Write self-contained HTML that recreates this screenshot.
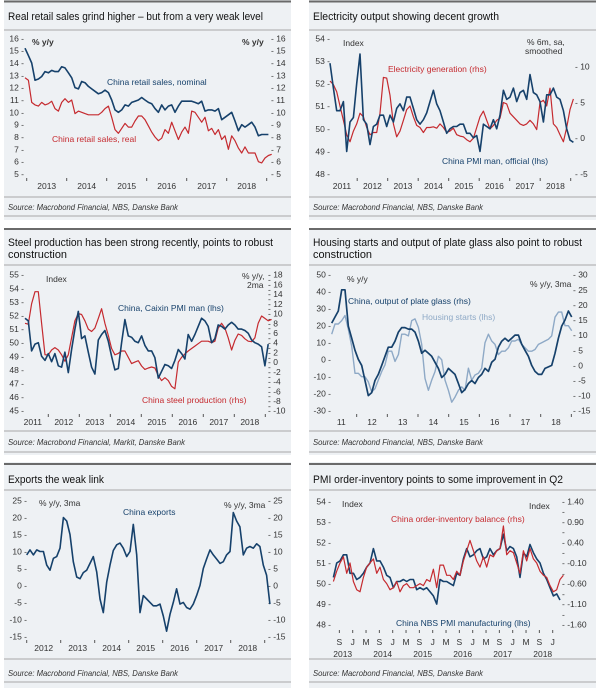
<!DOCTYPE html>
<html><head><meta charset="utf-8">
<style>
html,body{margin:0;padding:0;background:#fff;}
svg{display:block;font-family:"Liberation Sans",sans-serif;}
.ttl{font-size:11px;fill:#111;}
.src{font-size:8.5px;font-style:italic;fill:#333;}
.tk{font-size:8.5px;fill:#333;}
.sep{stroke:#a8a8a8;stroke-width:1;}
.top{stroke:#6a6a6a;stroke-width:2;}
.bg{fill:#eef1f4;}
</style></head>
<body>
<svg id="chart" width="600" height="688" viewBox="0 0 600 688">
<!-- Panel 1 -->
<g>
<rect class="bg" x="4" y="0" width="287" height="220"/>
<line class="top" x1="4" y1="1.5" x2="291" y2="1.5"/>
<text class="ttl" x="8" y="20" textLength="255" lengthAdjust="spacingAndGlyphs">Real retail sales grind higher – but from a very weak level</text>
<line class="sep" x1="4" y1="30" x2="291" y2="30"/>
<line class="sep" x1="4" y1="197" x2="291" y2="197"/>
<text class="src" x="8" y="210" textLength="170" lengthAdjust="spacingAndGlyphs">Source: Macrobond Financial, NBS, Danske Bank</text>
<line class="sep" x1="4" y1="216" x2="291" y2="216"/>
<text class="tk" x="32" y="45" font-weight="bold">% y/y</text>
<text class="tk" x="242" y="45" font-weight="bold">% y/y</text>
<text class="tk" x="107" y="85" style="fill:#16416b">China retail sales, nominal</text>
<text class="tk" x="52" y="142" style="fill:#c52a2f">China retail sales, real</text>
</g>
<!-- Panel 2 -->
<g>
<rect class="bg" x="309" y="0" width="287" height="220"/>
<line class="top" x1="309" y1="1.5" x2="596" y2="1.5"/>
<text class="ttl" x="313" y="20" textLength="186" lengthAdjust="spacingAndGlyphs">Electricity output showing decent growth</text>
<line class="sep" x1="309" y1="30" x2="596" y2="30"/>
<line class="sep" x1="309" y1="197" x2="596" y2="197"/>
<text class="src" x="313" y="210" textLength="170" lengthAdjust="spacingAndGlyphs">Source: Macrobond Financial, NBS, Danske Bank</text>
<line class="sep" x1="309" y1="216" x2="596" y2="216"/>
<text class="tk" x="343" y="46">Index</text>
<text class="tk" x="527" y="45">% 6m, sa,</text>
<text class="tk" x="525" y="54">smoothed</text>
<text class="tk" x="388" y="72" style="fill:#c52a2f">Electricity generation (rhs)</text>
<text class="tk" x="442" y="164" style="fill:#16416b">China PMI man, official (lhs)</text>
</g>
<!-- Panel 3 -->
<g>
<rect class="bg" x="4" y="228" width="287" height="227"/>
<line class="top" x1="4" y1="229" x2="291" y2="229"/>
<text class="ttl" x="8" y="246" textLength="265" lengthAdjust="spacingAndGlyphs">Steel production has been strong recently, points to robust</text>
<text class="ttl" x="8" y="258" textLength="59" lengthAdjust="spacingAndGlyphs">construction</text>
<line class="sep" x1="4" y1="265" x2="291" y2="265"/>
<line class="sep" x1="4" y1="431" x2="291" y2="431"/>
<text class="src" x="8" y="445" textLength="177" lengthAdjust="spacingAndGlyphs">Source: Macrobond Financial, Markit, Danske Bank</text>
<line class="sep" x1="4" y1="452" x2="291" y2="452"/>
<text class="tk" x="46" y="282">Index</text>
<text class="tk" x="242" y="279">% y/y,</text>
<text class="tk" x="247" y="288">2ma</text>
<text class="tk" x="118" y="311" style="fill:#16416b">China, Caixin PMI man (lhs)</text>
<text class="tk" x="142" y="403" style="fill:#c52a2f">China steel production (rhs)</text>
</g>
<!-- Panel 4 -->
<g>
<rect class="bg" x="309" y="228" width="287" height="227"/>
<line class="top" x1="309" y1="229" x2="596" y2="229"/>
<text class="ttl" x="313" y="246" textLength="269" lengthAdjust="spacingAndGlyphs">Housing starts and output of plate glass also point to robust</text>
<text class="ttl" x="313" y="258" textLength="59" lengthAdjust="spacingAndGlyphs">construction</text>
<line class="sep" x1="309" y1="265" x2="596" y2="265"/>
<line class="sep" x1="309" y1="431" x2="596" y2="431"/>
<text class="src" x="313" y="445" textLength="170" lengthAdjust="spacingAndGlyphs">Source: Macrobond Financial, NBS, Danske Bank</text>
<line class="sep" x1="309" y1="452" x2="596" y2="452"/>
<text class="tk" x="347" y="282">% y/y</text>
<text class="tk" x="530" y="287">% y/y, 3ma</text>
<text class="tk" x="348" y="304" style="fill:#16416b">China, output of plate glass (rhs)</text>
<text class="tk" x="422" y="320" style="fill:#8ea9c6">Housing starts (lhs)</text>
</g>
<!-- Panel 5 -->
<g>
<rect class="bg" x="4" y="462" width="287" height="226"/>
<line class="top" x1="4" y1="464" x2="291" y2="464"/>
<text class="ttl" x="8" y="483" textLength="96" lengthAdjust="spacingAndGlyphs">Exports the weak link</text>
<line class="sep" x1="4" y1="490" x2="291" y2="490"/>
<line class="sep" x1="4" y1="659" x2="291" y2="659"/>
<text class="src" x="8" y="676" textLength="170" lengthAdjust="spacingAndGlyphs">Source: Macrobond Financial, NBS, Danske Bank</text>
<line class="sep" x1="4" y1="682" x2="291" y2="682"/>
<text class="tk" x="39" y="506">% y/y, 3ma</text>
<text class="tk" x="224" y="508">% y/y, 3ma</text>
<text class="tk" x="123" y="515" style="fill:#16416b">China exports</text>
</g>
<!-- Panel 6 -->
<g>
<rect class="bg" x="309" y="462" width="287" height="226"/>
<line class="top" x1="309" y1="464" x2="596" y2="464"/>
<text class="ttl" x="313" y="483" textLength="250" lengthAdjust="spacingAndGlyphs">PMI order-inventory points to some improvement in Q2</text>
<line class="sep" x1="309" y1="490" x2="596" y2="490"/>
<line class="sep" x1="309" y1="659" x2="596" y2="659"/>
<text class="src" x="313" y="676" textLength="170" lengthAdjust="spacingAndGlyphs">Source: Macrobond Financial, NBS, Danske Bank</text>
<line class="sep" x1="309" y1="682" x2="596" y2="682"/>
<text class="tk" x="342" y="507" font-size="9">Index</text>
<text class="tk" x="529" y="509" font-size="9">Index</text>
<text class="tk" x="391" y="522" style="fill:#c52a2f" font-size="9">China order-inventory balance (rhs)</text>
<text class="tk" x="396" y="626" style="fill:#16416b" font-size="9">China NBS PMI manufacturing (lhs)</text>
</g>
</svg>
<script>
// ===== Panel 1: retail sales (monthly) =====
const p1Start = 2012.958;
const p1Nominal = [15.2,14.6,14.0,12.6,12.7,12.9,13.3,13.2,13.4,13.3,13.3,13.7,13.6,13.2,12.8,12.0,11.9,12.5,12.4,12.1,11.9,11.7,11.5,11.6,11.8,11.6,11.0,10.2,10.0,10.2,10.6,10.5,10.8,10.9,11.0,11.2,11.0,10.8,10.7,10.3,10.0,10.6,10.2,10.5,10.6,10.0,10.5,10.9,10.9,10.9,10.9,10.8,10.7,10.9,10.1,10.2,10.2,10.1,10.3,9.4,9.6,9.8,10.0,9.3,8.5,9.0,8.8,9.0,9.2,8.8,8.1,8.2,8.2,8.2];
const p1Real = [12.8,12.6,10.8,10.6,10.5,10.8,10.6,10.7,10.9,10.3,10.1,10.8,11.1,10.8,11.0,9.9,10.1,10.0,9.9,9.8,9.8,9.8,9.8,10.0,10.3,10.5,9.6,8.6,8.3,8.7,9.1,8.8,8.8,9.3,9.7,9.7,9.4,8.9,8.4,8.0,7.7,7.9,8.6,8.3,9.2,8.5,7.8,8.4,8.8,8.3,10.1,10.0,9.6,9.2,9.6,8.5,8.7,8.2,8.6,7.8,8.1,7.0,8.1,7.7,7.1,6.7,7.2,6.7,6.7,6.7,6.0,5.9,6.3,6.5,6.6];
const p1YTicks = [5,6,7,8,9,10,11,12,13,14,15,16];
const p1Years = [2013,2014,2015,2016,2017,2018];

// ===== Panel 2: electricity =====
const p2Start = 2011.109, p2StepYears = 0.1093;
const p2Pmi = [52.9,51.8,50.8,50.8,51.2,49.0,50.3,50.5,52.0,53.3,50.4,50.2,49.3,50.1,50.2,50.6,50.6,50.1,50.6,50.3,50.9,51.1,50.8,51.4,51.4,50.9,50.4,50.2,50.4,50.7,51.2,51.7,51.1,50.8,50.3,49.8,50.0,50.1,50.1,50.2,50.2,49.8,49.8,49.6,49.7,49.0,50.2,50.1,50.0,50.4,50.0,50.6,51.7,51.3,51.4,51.8,51.2,51.6,51.7,51.3,52.4,51.6,51.5,51.2,50.3,51.5,51.5,51.8,51.4,51.3,50.8,50.0,49.5,49.4];
const p2Elec = [8.0,7.5,6.5,4.5,2.5,0.5,-0.5,1.0,2.0,3.5,3.0,1.5,0.5,0.8,0.8,3.5,8.5,8.4,6.0,2.0,0.2,1.0,2.5,4.0,4.5,3.0,1.8,1.5,0.8,1.5,1.5,1.6,1.4,2.0,1.5,0.8,1.0,1.4,0.5,0.3,0.2,-0.2,-0.5,0.0,1.5,3.0,3.8,2.5,1.3,1.8,2.5,2.8,5.0,4.8,3.5,3.0,2.5,2.0,1.8,2.0,2.5,2.0,1.2,5.0,5.3,4.5,7.0,2.0,1.5,0.5,-0.5,1.5,4.0,5.5];
const p2LeftTicks = [48,49,50,51,52,53,54];
const p2RightTicks = [-5,0,5,10];
const p2Years = [2011,2012,2013,2014,2015,2016,2017,2018];

// ===== Panel 3: steel =====
const p3Start = 2011.247, p3StepYears = 0.1075;
const p3Caixin = [51.8,51.6,49.4,49.9,50.0,49.0,48.7,49.2,48.6,49.2,48.3,48.2,49.3,47.8,49.5,51.0,52.3,50.3,50.5,49.3,48.2,47.7,50.2,50.6,50.9,50.1,49.0,48.0,48.1,50.0,51.7,50.5,50.4,50.1,50.0,50.5,49.8,49.4,49.4,48.9,47.4,47.9,48.4,48.3,48.1,48.7,49.5,49.2,48.8,50.6,50.1,50.6,51.2,51.8,51.6,51.2,50.0,50.3,51.3,51.2,51.0,51.3,51.5,51.3,51.0,51.0,50.9,50.7,50.2,50.0,49.9,49.7,48.3,49.9];
const p3Steel = [8.0,7.8,12.0,14.5,14.5,8.0,1.5,1.5,2.5,3.0,2.5,1.5,0.2,1.5,5.0,8.5,10.0,9.8,8.5,6.8,6.3,7.0,9.0,11.0,8.0,5.5,2.8,1.5,1.8,2.3,2.3,1.0,-0.3,0.0,0.3,-0.8,-1.5,-1.2,-1.0,-1.2,-2.8,-3.8,-3.2,-3.8,-5.0,-5.5,0.0,1.0,1.7,2.3,2.8,3.3,3.8,4.3,4.3,4.3,4.0,4.3,7.0,8.0,7.0,5.0,2.5,4.5,5.8,5.5,4.8,4.3,4.2,5.0,8.0,9.5,9.0,8.5,8.8];
const p3LeftTicks = [45,46,47,48,49,50,51,52,53,54,55];
const p3RightTicks = [-10,-8,-6,-4,-2,0,2,4,6,8,10,12,14,16,18];
const p3Years = [2011,2012,2013,2014,2015,2016,2017,2018];

// ===== Panel 4: housing & glass =====
const p4Start = 2011.185, p4StepYears = 0.1087;
const p4Housing = [15,21,21,23,26,18,8,-8,-8,-10,-10,-13,-19,-17,-12,-7,-3,5,5,-1,3,15,15,14,23,24,19,9,-11,-18,-12,-7,2,0,-12,-18,-25,-22,-18,-16,-18,-5,-12,-9,-8,-5,10,15,11,9,3,5,5,7,11,11,12,9,7,5,5,6,9,10,11,12,14,25,28,28,20,20,17];
const p4Glass = [14,16,18,25,25,13,9,5,2,0,-5,-10,-9,-5,-3,0,3,6,6,8,11,12.5,12.5,12,12,11,8,4,5,4,3,1,-1,-4,-3,-1,-2,-3,-6,-9,-8,-6,-5,-6,-4,-3,-1,-2,1,2,6,8,9,8,9,10,10,7,5,3,0,-2,-3,-3,-1,-0.5,0,4,9,13,15,18,16];
const p4LeftTicks = [-30,-20,-10,0,10,20,30,40,50];
const p4RightTicks = [-15,-10,-5,0,5,10,15,20,25,30];
const p4YearLabels = ['11','12','13','14','15','16','17','18'];

// ===== Panel 5: exports =====
const p5Start = 2012.0, p5StepYears = 0.098;
const p5Exports = [9,10.5,9,10.5,10,10,6,4.5,8,8.5,11,20,19,15,7,2.5,2,3.8,4.5,6.5,8.5,4,-4,-8,1,6,10.3,12,12.5,11,8.5,10,18,9,-8,-3,-4,-5,-6,-6,-5.5,-9,-13.5,-8.5,-5,-1,-5.5,-5,-6.5,-7,-5.5,-3,0,5,7.8,10.5,9,7.8,6.5,7,9,10,21.5,19,17.3,9,11,11.5,11,12.3,11.5,6,3,-5.5];
const p5Ticks = [-15,-10,-5,0,5,10,15,20,25];
const p5Years = [2012,2013,2014,2015,2016,2017,2018];

// ===== Panel 6: PMI & order-inventory (monthly) =====
const p6Start = 2013.517;
const p6Pmi = [50.3,51.0,51.1,51.4,51.4,50.5,50.5,50.2,50.3,50.5,50.8,51.0,51.7,51.1,51.1,50.8,50.4,50.3,49.8,50.1,50.1,50.2,50.1,50.2,50.2,49.7,49.8,49.7,49.8,49.6,49.4,49.0,50.2,50.1,50.1,50.0,49.9,50.5,50.4,51.2,51.7,51.3,51.4,51.6,51.7,51.2,51.3,51.7,51.4,51.6,51.7,52.4,51.6,51.8,51.7,51.3,50.3,51.5,51.3,51.9,51.5,51.2,51.0,50.5,50.2,49.8,49.4,49.5,49.2];
const p6Balance = [-0.55,-0.30,-0.10,0.05,-0.35,-0.10,-0.55,-0.75,-0.80,-0.45,-0.20,-0.10,0.00,-0.35,-0.20,-0.50,-0.60,-0.75,-0.70,-0.55,-0.80,-0.65,-0.60,-0.70,-0.70,-0.65,-0.60,-0.65,-0.50,-0.55,-0.25,-0.70,-0.15,-0.15,-0.40,-0.40,-0.50,-0.30,-0.40,-0.05,0.20,0.45,0.20,-0.05,-0.20,0.05,-0.20,0.10,0.05,0.20,0.25,0.80,0.10,0.20,0.15,-0.10,-0.35,0.20,-0.05,0.25,0.00,-0.10,-0.30,-0.40,-0.45,-0.65,-0.80,-0.75,-0.50,-0.40];
const p6LeftTicks = [48,49,50,51,52,53,54];
const p6RightTicks = [-1.60,-1.10,-0.60,-0.10,0.40,0.90,1.40];
const p6MonthLabels = ['S','J','M','S','J','M','S','J','M','S','J','M','S','J','M','S','J'];
const p6YearLabels = ['2013','2014','2015','2016','2017','2018'];

const NS = 'http://www.w3.org/2000/svg';
const svg = document.getElementById('chart');
function mk(tag, attrs, parent){
  const e = document.createElementNS(NS, tag);
  for (const k in attrs) e.setAttribute(k, attrs[k]);
  (parent || svg).appendChild(e);
  return e;
}
function lin(v0, p0, v1, p1){ return v => p0 + (v - v0) * (p1 - p0) / (v1 - v0); }
function txt(x, y, s, anchor, extra){
  const t = mk('text', Object.assign({x:x, y:y, 'class':'tk', 'text-anchor':anchor}, extra || {}));
  t.textContent = s;
  return t;
}
function series(vals, start, step, xf, yf, color, width, name){
  const pts = vals.map((v,i) => xf(start + i*step).toFixed(1) + ',' + yf(v).toFixed(1)).join(' ');
  const pl = mk('polyline', {points: pts, fill:'none', stroke: color, 'stroke-width': width, 'stroke-linejoin':'round'});
  
  
  return pl;
}
function leftTicks(ticks, yf, xEnd, fmt){
  ticks.forEach(v => {
    const t = txt(xEnd, yf(v) + 3, (fmt ? fmt(v) : v) + ' -', 'end');
    
    
  });
}
function rightTicks(ticks, yf, xStart, fmt){
  ticks.forEach(v => {
    const t = txt(xStart, yf(v) + 3, '- ' + (fmt ? fmt(v) : v), 'start');
    
    
  });
}
function yearAxis(labels, first, xf, yTick, yLab){
  labels.forEach((lab, i) => {
    const yr = first + i;
    const tm = mk('line', {x1: xf(yr+1), x2: xf(yr+1), y1: yTick, y2: yTick+3, stroke:'#555', 'stroke-width':1});
    
    
    const t = txt(xf(yr + 0.5), yLab, lab, 'middle');
    
    
  });
}
const NAVY = '#16416b', RED = '#c52a2f', LIGHT = '#8ea9c6';

// Panel 1
{
  const xf = lin(2013, 26.7, 2014, 66.7);
  const yf = lin(16, 38.3, 5, 174);
  leftTicks(p1YTicks, yf, 24);
  rightTicks(p1YTicks, yf, 271);
  const t0 = mk('line', {x1: xf(2013), x2: xf(2013), y1: 178, y2: 181, stroke:'#555'});
  
  
  yearAxis(p1Years.map(String), p1Years[0], xf, 178, 189);
  series(p1Real, p1Start, 1/12, xf, yf, RED, 1.2, 'real-retail-sales-line');
  series(p1Nominal, p1Start, 1/12, xf, yf, NAVY, 1.6, 'nominal-retail-sales-line');
}
// Panel 2
{
  const xf = lin(2011, 326.7, 2012, 357.2);
  const yl = lin(54, 38.3, 48, 174);
  const yr = lin(10, 66.7, -5, 174);
  leftTicks(p2LeftTicks, yl, 330);
  rightTicks(p2RightTicks, yr, 575);
  yearAxis(p2Years.map(String), p2Years[0], xf, 178, 189);
  series(p2Elec, p2Start, p2StepYears, xf, yr, RED, 1.2, 'electricity-generation-line');
  series(p2Pmi, p2Start, p2StepYears, xf, yl, NAVY, 1.6, 'pmi-official-line');
}
// Panel 3
{
  const xf = lin(2011, 17.3, 2012, 48.3);
  const yl = lin(55, 274.7, 45, 410.7);
  const yr = lin(18, 274.7, -10, 410.7);
  leftTicks(p3LeftTicks, yl, 24);
  rightTicks(p3RightTicks, yr, 268);
  p3RightTicks.slice(0, -1).forEach(v => {
    const d = txt(268, yr(v + 1) + 3, '-', 'start');
    
    
  });
  yearAxis(p3Years.map(String), p3Years[0], xf, 414, 425);
  series(p3Steel, p3Start, p3StepYears, xf, yr, RED, 1.2, 'steel-production-line');
  series(p3Caixin, p3Start, p3StepYears, xf, yl, NAVY, 1.6, 'caixin-pmi-line');
}
// Panel 4
{
  const xf = lin(2011, 326, 2012, 356.67);
  const yl = lin(50, 274.7, -30, 410.7);
  const yr = lin(30, 274.7, -15, 410.7);
  leftTicks(p4LeftTicks, yl, 331);
  rightTicks(p4RightTicks, yr, 573);
  yearAxis(p4YearLabels, 2011, xf, 414, 425);
  series(p4Housing, p4Start, p4StepYears, xf, yl, LIGHT, 1.4, 'housing-starts-line');
  series(p4Glass, p4Start, p4StepYears, xf, yr, NAVY, 1.7, 'plate-glass-line');
}
// Panel 5
{
  const xf = lin(2012, 26.7, 2013, 60.7);
  const yf = lin(25, 500.7, -15, 636.3);
  leftTicks(p5Ticks, yf, 27);
  rightTicks(p5Ticks, yf, 268);
  const t0 = mk('line', {x1: xf(2012), x2: xf(2012), y1: 640, y2: 643, stroke:'#555'});
  
  
  yearAxis(p5Years.map(String), p5Years[0], xf, 640, 651);
  series(p5Exports, p5Start, p5StepYears, xf, yf, NAVY, 1.6, 'china-exports-line');
}
// Panel 6
{
  const xf = lin(2013, 312.7, 2014, 352.7);
  const yl = lin(54, 501.3, 48, 624.7);
  const yr = lin(1.4, 501.3, -1.6, 624.7);
  leftTicks(p6LeftTicks, yl, 331);
  rightTicks(p6RightTicks, yr, 562, v => v.toFixed(2));
  p6RightTicks.slice(0, -1).forEach(v => {
    const d = txt(562, yr(v + 0.25) + 3, '-', 'start');
    
    
  });
  p6MonthLabels.forEach((m, i) => {
    const yrv = 2013 + (8 + 4*i) / 12;
    const tm = mk('line', {x1: xf(yrv), x2: xf(yrv), y1: 630, y2: 633, stroke:'#555'});
    
    
    const t = txt(xf(yrv), 645, m, 'middle', {'font-size': 9});
    
    
  });
  p6YearLabels.forEach((y, i) => {
    const t = txt(xf(2013 + i + 0.75), 657, y, 'middle', {'font-size': 9});
    
    
  });
  series(p6Pmi, p6Start, 1/12, xf, yl, NAVY, 1.6, 'nbs-pmi-line');
  series(p6Balance, p6Start, 1/12, xf, yr, RED, 1.2, 'order-inventory-line');
}
</script>
</body></html>
